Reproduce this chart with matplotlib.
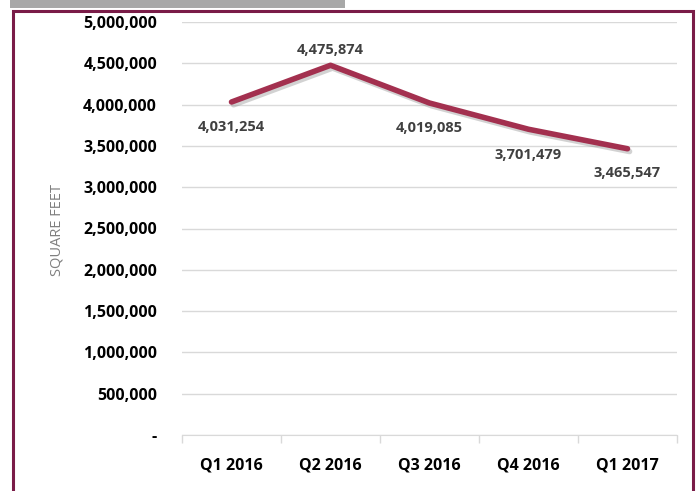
import matplotlib.pyplot as plt
import matplotlib.patheffects as pe
from matplotlib.patches import Rectangle
from matplotlib.ticker import FuncFormatter

quarters = ["Q1 2016", "Q2 2016", "Q3 2016", "Q4 2016", "Q1 2017"]
square_feet = [4031254, 4475874, 4019085, 3701479, 3465547]
# vertical label offsets in pixels relative to each point
label_dy = [-25, 15, -25, -26, -24]

plt.rcParams['font.family'] = ['Open Sans', 'DejaVu Sans']

fig = plt.figure(figsize=(6.99, 4.91), dpi=100)

# frame and top shadow
fig.patches.append(Rectangle((10 / 699, 1 - 8 / 491), 335 / 699, 8 / 491, transform=fig.transFigure,
                             facecolor="#a8a8a8", edgecolor="none"))
fig.patches.append(Rectangle((13 / 699, -0.05), 680 / 699, 1.05 - 11 / 491, transform=fig.transFigure,
                             facecolor="none", edgecolor="#7a1c48", linewidth=2.2))

ax = fig.add_axes([182 / 699, 1 - 435 / 491, 495 / 699, 413 / 491])
x = range(len(quarters))
ax.plot(x, square_feet, color="#a3304f", linewidth=4, solid_capstyle="round",
        path_effects=[pe.SimpleLineShadow(offset=(1.5, -2), shadow_color="gray", alpha=0.35),
                      pe.Normal()])

for i, v in enumerate(square_feet):
    ax.annotate(f"{v:,}", (i, v), xytext=(0, label_dy[i] * 0.72), textcoords="offset points",
                ha="center", va="center", fontsize=10.5, fontweight="bold", color="#404040")

ax.set_xlim(-0.5, len(quarters) - 0.5)
ax.set_ylim(0, 5000000)
ax.set_yticks(range(0, 5000001, 500000))
ax.yaxis.set_major_formatter(FuncFormatter(lambda v, p: "-" if v == 0 else f"{int(v):,}"))
ax.set_xticks(list(x))
ax.set_xticklabels(quarters)
ax.set_xticks([i - 0.5 for i in range(len(quarters) + 1)], minor=True)
ax.tick_params(axis="x", which="major", length=0, pad=16, labelsize=11.5)
ax.tick_params(axis="x", which="minor", length=6, color="#d9d9d9", width=1)
ax.tick_params(axis="y", length=0, pad=18, labelsize=11.5)
for lab in ax.get_xticklabels() + ax.get_yticklabels():
    lab.set_fontweight("bold")
    lab.set_color("black")

ax.grid(axis="y", color="#d9d9d9", linewidth=1)
ax.set_axisbelow(True)
for s in ["top", "right", "left"]:
    ax.spines[s].set_visible(False)
ax.spines["bottom"].set_color("#d9d9d9")

fig.text(57 / 699, 1 - 230 / 491, "SQUARE FEET", rotation=90, ha="center", va="center",
         fontsize=10.5, color="#7f7f7f")

fig.savefig("out.png", dpi=100)
